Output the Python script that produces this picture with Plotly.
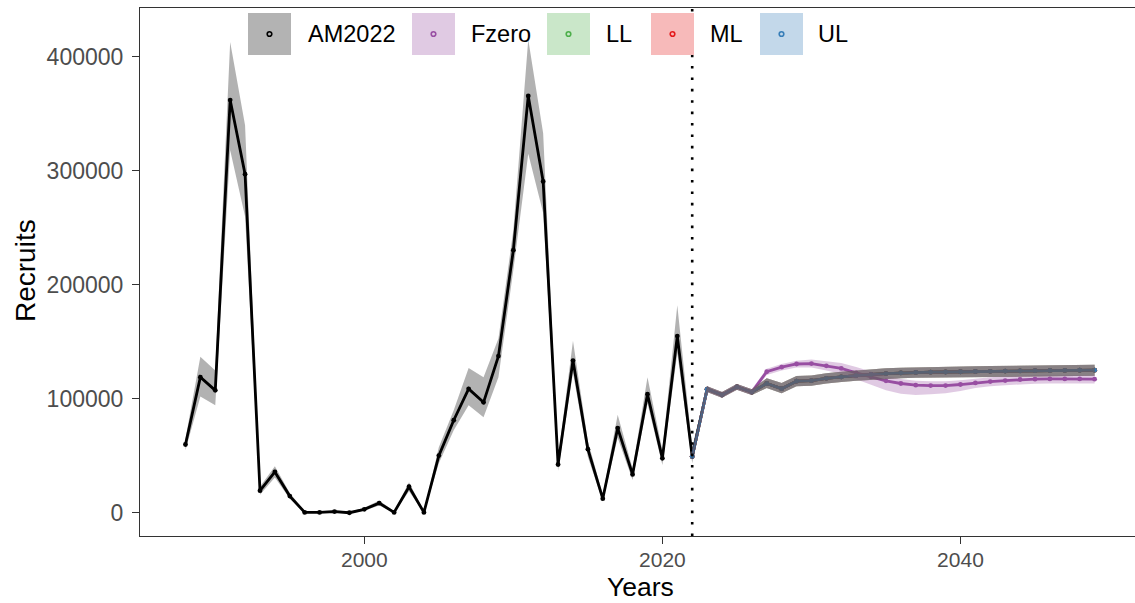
import plotly.graph_objects as go

# ---------------- data ----------------
hist_years = list(range(1988, 2023))
am_hist = [60000, 119000, 107500, 362000, 297000, 19500, 36000, 14800, 500, 500,
           1200, 200, 3200, 8600, 500, 23000, 500, 50300, 81300, 108800,
           97000, 137500, 230400, 365600, 290600, 42500, 133600, 55900, 12500, 74400,
           33800, 104100, 47900, 155100, 49400]
am_hist_lo = [55000, 102000, 94500, 318000, 260000, 16000, 31000, 12500, 0, 0,
              500, 0, 2000, 6500, 0, 19000, 0, 43600, 72500, 94500,
              84000, 119000, 213000, 315000, 263000, 37000, 123000, 49000, 10000, 66000,
              29000, 96000, 42000, 140000, 43600]
am_hist_hi = [65000, 137000, 125000, 413000, 340000, 23000, 41000, 17500, 1500, 1500,
              2500, 1000, 4500, 11000, 1500, 27000, 1500, 57600, 90000, 127000,
              119000, 153000, 248000, 415000, 333000, 48000, 151000, 63000, 16000, 86000,
              39000, 119000, 55000, 182000, 58000]

proj_years = list(range(2022, 2050))
base_proj = [49400, 108500, 103500, 110500, 106000, 113500, 109000, 115500, 116000, 118000,
             119300, 120500, 121400, 122200, 122800, 123200, 123400, 123600, 123800, 124000,
             124200, 124400, 124600, 124700, 124900, 125000, 125100, 125200]
base_proj_lo = [47500, 106000, 101000, 108000, 103500, 109500, 105000, 111000, 111500, 113500,
                114800, 116000, 116900, 117600, 118100, 118500, 118700, 118900, 119000, 119200,
                119400, 119500, 119700, 119800, 119900, 120000, 120100, 120200]
base_proj_hi = [51500, 111000, 106000, 113000, 108500, 118000, 114000, 120000, 120500, 122500,
                123800, 125000, 125900, 126800, 127300, 127700, 128000, 128200, 128500, 128700,
                128900, 129100, 129300, 129400, 129600, 129700, 129800, 129900]
fzero_proj = [49400, 108500, 103500, 110500, 106000, 123800, 127800, 130600, 131000, 129000,
              126700, 122800, 119300, 115800, 113500, 112000, 111700, 111700, 112600, 114000,
              115200, 116100, 117000, 117300, 117500, 117500, 117500, 117300]
fzero_lo = [47500, 106000, 101000, 108000, 103500, 121000, 125000, 127500, 127500, 125000,
            122000, 117500, 112500, 107500, 104500, 103500, 104000, 105000, 107000, 109500,
            111000, 112000, 112800, 113200, 113500, 113600, 113600, 113500]
fzero_hi = [51500, 111000, 106000, 113000, 108500, 126500, 130500, 133500, 134500, 133000,
            131500, 128000, 124000, 120000, 117500, 116000, 115500, 115500, 116300, 117700,
            118900, 119800, 120700, 121000, 121200, 121200, 121200, 121000]

scenarios = ["AM2022", "Fzero", "LL", "ML", "UL"]
line_colors = ["#000000", "#984EA3", "#4DAF4A", "#E41A1C", "#377EB8"]
fill_rgb = [(0, 0, 0), (152, 78, 163), (77, 175, 74), (228, 26, 28), (55, 126, 184)]
key_colors = ["#b3b3b3", "#e0cae3", "#cae7c9", "#f7baba", "#c3d8ea"]
projection_start = 2022
x_ticks = [2000, 2020, 2040]
y_ticks = [0, 100000, 200000, 300000, 400000]

# ---------------- series ----------------
series = {
    "AM2022": (hist_years + proj_years[1:], am_hist + base_proj[1:],
               am_hist_lo + base_proj_lo[1:], am_hist_hi + base_proj_hi[1:]),
    "Fzero": (proj_years, fzero_proj, fzero_lo, fzero_hi),
    "LL": (proj_years, base_proj, base_proj_lo, base_proj_hi),
    "ML": (proj_years, base_proj, base_proj_lo, base_proj_hi),
    "UL": (proj_years, base_proj, base_proj_lo, base_proj_hi),
}

fig = go.Figure()

# lines first
for name, col in zip(scenarios, line_colors):
    x, y, lo, hi = series[name]
    fig.add_trace(go.Scatter(x=x, y=y, mode="lines+markers", name=name,
                             line=dict(color=col, width=2.8),
                             marker=dict(color=col, size=4.8),
                             showlegend=False))
# ribbons on top (alpha 0.3)
for name, rgb in zip(scenarios, fill_rgb):
    x, y, lo, hi = series[name]
    fig.add_trace(go.Scatter(x=x + x[::-1], y=hi + lo[::-1], fill="toself",
                             fillcolor="rgba(%d,%d,%d,0.3)" % rgb,
                             line=dict(width=0), mode="lines",
                             hoverinfo="skip", showlegend=False))

# dotted projection line
fig.add_shape(type="line", xref="x", yref="paper", x0=projection_start, x1=projection_start,
              y0=0, y1=1, line=dict(color="black", width=2.6, dash="2.6px,8.8px"),
              layer="above")

# ---------------- manual legend ----------------
W, H = 1135, 603
L, R, T, B = 140, 0, 8, 67
pw, ph = W - L - R, H - T - B


def px(xp):
    return (xp - L) / pw


def py(yp):
    return (H - B - yp) / ph


key_x = [248, 412, 547, 651, 760]
text_x = [306, 469, 604, 708, 816]
key_w, key_top, key_bot = 43, 13, 55
for name, kx, tx, kc, lc in zip(scenarios, key_x, text_x, key_colors, line_colors):
    fig.add_shape(type="rect", xref="paper", yref="paper",
                  x0=px(kx), x1=px(kx + key_w), y0=py(key_bot), y1=py(key_top),
                  fillcolor=kc, line=dict(width=0), layer="above")
    cx, cy = kx + key_w / 2, (key_top + key_bot) / 2
    fig.add_shape(type="circle", xref="paper", yref="paper",
                  x0=px(cx - 2.3), x1=px(cx + 2.3), y0=py(cy + 2.3), y1=py(cy - 2.3),
                  fillcolor=kc, line=dict(color=lc, width=1.6), layer="above")
    fig.add_annotation(xref="paper", yref="paper", x=px(tx), y=py(cy),
                       text=name, showarrow=False, xanchor="left", yanchor="middle",
                       font=dict(size=23.5, color="black"))

# axis titles
fig.add_annotation(xref="paper", yref="paper", x=px(25), y=py(271), text="Recruits",
                   textangle=-90, showarrow=False, xanchor="center", yanchor="middle",
                   font=dict(size=28, color="black"))
fig.add_annotation(xref="paper", yref="paper", x=px(640), y=py(603), text="Years",
                   showarrow=False, xanchor="center", yanchor="bottom", borderpad=0,
                   font=dict(size=26.5, color="black"))

# ---------------- layout ----------------
fig.update_layout(
    width=W, height=H,
    margin=dict(l=L, r=R, t=T, b=B, autoexpand=False),
    paper_bgcolor="white", plot_bgcolor="white",
    font=dict(family="Liberation Sans, Arial, sans-serif"),
    showlegend=False,
    xaxis=dict(range=[1984.95, 2051.71], tickvals=x_ticks,
               showgrid=False, zeroline=False,
               showline=True, mirror=True, linecolor="#333333", linewidth=1.1,
               ticks="outside", ticklen=7, tickcolor="#333333", tickwidth=1.1,
               ticklabelstandoff=-2,
               tickfont=dict(size=21, color="#4d4d4d")),
    yaxis=dict(range=[-20200, 442700], tickvals=y_ticks,
               ticktext=[str(v) for v in y_ticks],
               showgrid=False, zeroline=False,
               showline=True, mirror=False, linecolor="#333333", linewidth=1.1,
               ticks="outside", ticklen=7, tickcolor="#333333", tickwidth=1.1,
               ticklabelstandoff=4,
               tickfont=dict(size=23, color="#4d4d4d")),
)

fig.write_html("out.html", config={"displayModeBar": False},
               post_script="document.body.style.margin='0px';")
